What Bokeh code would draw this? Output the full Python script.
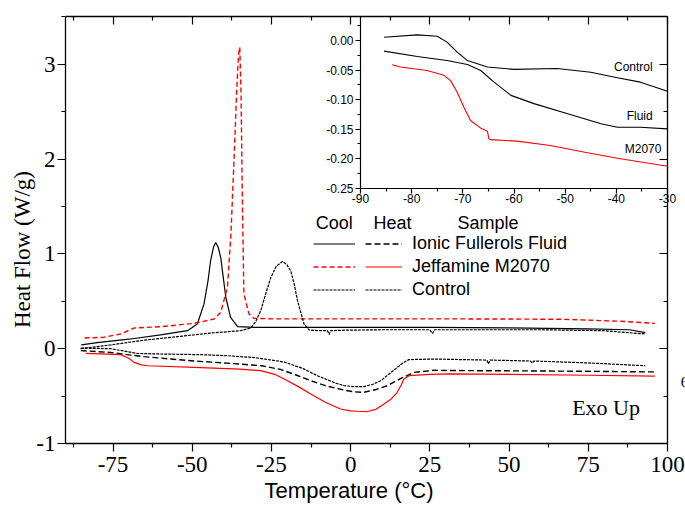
from math import pi
from bokeh.plotting import figure
from bokeh.models import (Range1d, LinearAxis, FixedTicker, PrintfTickFormatter,
                          Label, Legend, LegendItem, Grid)
from bokeh.embed import file_html
from bokeh.resources import INLINE

# ---------------- data (main chart) ----------------
fluid_cool_x = [-85, -80, -70, -60, -51.5, -48.4, -46.3, -45, -44.2, -43.3, -42.6, -41.8, -41, -40.2,
                -39.4, -37.9, -35.7, -30, -20, 0, 25, 50, 75, 88, 93]
fluid_cool_y = [0.04, 0.065, 0.10, 0.145, 0.19, 0.26, 0.47, 0.72, 0.93, 1.07, 1.12, 1.07, 0.96, 0.75,
                0.54, 0.33, 0.232, 0.225, 0.225, 0.225, 0.225, 0.22, 0.21, 0.2, 0.17]

m2070_cool_x = [-84, -78, -72.6, -68.4, -60, -49.4, -43.1, -41, -38.9, -37.8, -36.8, -36, -35.4, -35,
                -34.6, -34.2, -33.7, -32.1, -30.5, -25, 0, 25, 50, 67, 85, 96]
m2070_cool_y = [0.113, 0.12, 0.155, 0.218, 0.232, 0.267, 0.313, 0.383, 0.647, 1.2, 2.0, 2.7, 3.1, 3.18,
                2.7, 1.6, 0.58, 0.366, 0.32, 0.315, 0.315, 0.315, 0.313, 0.31, 0.29, 0.267]

control_cool_x = [-85.2, -75.7, -65.2, -54.7, -44.2, -34.7, -31.5, -29.9, -28.4, -26.8, -25.2, -23.5,
                  -21.5, -20.2, -18.9, -17.8, -16.8, -14.7, -13.1, -10, -7.3, -6.8, -6.3, -2, 10, 25,
                  25.8, 26.5, 40, 60, 80, 93]
control_cool_y = [0.0, 0.04, 0.09, 0.127, 0.165, 0.19, 0.218, 0.29, 0.40, 0.58, 0.75, 0.87,
                  0.92, 0.89, 0.82, 0.68, 0.51, 0.26, 0.197, 0.19, 0.19, 0.15, 0.19, 0.195, 0.2, 0.2,
                  0.16, 0.2, 0.2, 0.2, 0.19, 0.155]

fluid_heat_x = [-85.2, -75.7, -65.2, -49.4, -40, -28, -22, -17, -12.6, -8, -2.1, 1, 4.2, 8, 11.6, 16,
                20, 26.3, 40, 60, 80, 96]
fluid_heat_y = [-0.02, -0.04, -0.084, -0.13, -0.15, -0.18, -0.22, -0.28, -0.338, -0.39, -0.436, -0.455,
                -0.46, -0.43, -0.39, -0.31, -0.25, -0.228, -0.232, -0.235, -0.24, -0.245]

m2070_heat_x = [-83.6, -72.6, -70, -68.4, -66, -64.1, -49.4, -35, -28.4, -24, -21, -16.5, -12.6, -8,
                -3.2, 0, 2.1, 5, 8, 10.5, 12.8, 14.7, 16, 16.8, 18.4, 25, 31.5, 50, 75, 96]
m2070_heat_y = [-0.05, -0.063, -0.10, -0.144, -0.17, -0.18, -0.197, -0.215, -0.232, -0.27, -0.32, -0.40,
                -0.478, -0.565, -0.636, -0.655, -0.66, -0.665, -0.64, -0.584, -0.53, -0.46, -0.38, -0.32,
                -0.285, -0.27, -0.265, -0.27, -0.28, -0.29]

control_heat_x = [-85.2, -75.7, -67.3, -59.9, -47.3, -38.9, -30, -21, -15, -10.5, -5, -2.1, 1, 4.2, 7,
                  9.5, 12, 14.7, 16.5, 18.4, 26.3, 43, 43.5, 44, 56.8, 57.3, 57.8, 75, 93]
control_heat_y = [0.007, 0.0, -0.05, -0.056, -0.063, -0.074, -0.095, -0.14, -0.21, -0.285, -0.36, -0.39,
                  -0.40, -0.40, -0.375, -0.338, -0.27, -0.197, -0.15, -0.115, -0.109, -0.12, -0.16,
                  -0.12, -0.13, -0.15, -0.13, -0.15, -0.18]

# ---------------- data (inset) ----------------
in_control_x = [-85.4, -78.9, -75, -73.1, -71.1, -69.1, -65.2, -60, -51.6, -45, -39.8, -35.3, -30]
in_control_y = [0.0056, 0.0096, 0.0073, -0.0028, -0.0198, -0.034, -0.045, -0.049, -0.0475, -0.0537,
                -0.063, -0.0706, -0.086]
in_fluid_x = [-85.4, -78.9, -73.1, -69.1, -66.5, -63.9, -60.6, -56.1, -49.5, -43, -39.8, -35.3, -30]
in_fluid_y = [-0.018, -0.027, -0.034, -0.0407, -0.0508, -0.0706, -0.093, -0.107, -0.124, -0.141,
              -0.147, -0.147, -0.1497]
in_m2070_x = [-83.8, -82.2, -77, -73.7, -72.4, -71.1, -69.8, -68.5, -66.5, -65.2, -64.9, -64.6, -59.4,
              -52.9, -46.4, -39.8, -30]
in_m2070_y = [-0.0412, -0.045, -0.0508, -0.059, -0.068, -0.0876, -0.113, -0.1356, -0.1486, -0.1537,
              -0.1667, -0.168, -0.1706, -0.178, -0.189, -0.1995, -0.213]

# ---------------- ticks / labels ----------------
x_major = [-75, -50, -25, 0, 25, 50, 75, 100]
x_minor = [-87.5, -62.5, -37.5, -12.5, 12.5, 37.5, 62.5, 87.5]
y_major = [-1, 0, 1, 2, 3]
y_minor = [-0.5, 0.5, 1.5, 2.5, 3.5]
in_x_major = [-90, -80, -70, -60, -50, -40, -30]
in_x_minor = [-85, -75, -65, -55, -45, -35]
in_y_major = [-0.25, -0.20, -0.15, -0.10, -0.05, 0.0]
in_y_minor = [-0.225, -0.175, -0.125, -0.075, -0.025, 0.025]

series_names = ["Ionic Fullerols Fluid", "Jeffamine M2070", "Control"]
header_texts = ["Cool", "Heat", "Sample"]
inset_names = ["Control", "Fluid", "M2070"]

SERIF = "Liberation Serif"
SANS = "Liberation Sans"

# The frame covers the whole canvas; the visible axes are drawn at fixed locations.
p = figure(width=685, height=505, output_backend="svg", toolbar_location=None,
           x_range=Range1d(-110.515, 105.68), y_range=Range1d(-1.654, 3.673),
           x_axis_location=None, y_axis_location=None,
           min_border=0, min_border_left=0, min_border_right=0, min_border_top=0, min_border_bottom=0)
p.outline_line_color = None
p.background_fill_color = "white"
p.border_fill_color = "white"
p.center = [r for r in p.center if not isinstance(r, Grid)]

p.extra_x_ranges = {"ix": Range1d(-160.35, -26.49)}
p.extra_y_ranges = {"iy": Range1d(-0.7881, 0.0678)}


def make_axis(side, loc, bounds, major, minor, inward, labels, fmt="%d", font=SERIF, size="23px",
              maj=8, mnr=4, lw=1.3, standoff=2, inset=False):
    kw = {}
    if inset:
        kw = dict(x_range_name="ix", y_range_name="iy")
    ax = LinearAxis(fixed_location=loc, bounds=bounds,
                    ticker=FixedTicker(ticks=major, minor_ticks=minor),
                    formatter=PrintfTickFormatter(format=fmt), **kw)
    ax.axis_line_color = "black"
    ax.axis_line_width = lw
    ax.major_tick_line_color = "black"
    ax.minor_tick_line_color = "black"
    ax.major_tick_line_width = 1.2
    ax.minor_tick_line_width = 1.2
    if inward:
        ax.major_tick_in, ax.major_tick_out = maj, 0
        ax.minor_tick_in, ax.minor_tick_out = mnr, 0
    else:
        ax.major_tick_in, ax.major_tick_out = 0, maj
        ax.minor_tick_in, ax.minor_tick_out = 0, mnr
    ax.major_label_text_font = font
    ax.major_label_text_font_size = size
    ax.major_label_standoff = standoff
    ax.major_label_text_color = "black" if labels else None
    p.add_layout(ax, side)
    return ax


# main frame axes
make_axis("below", -1, (-90, 100), x_major, x_minor, False, True, standoff=5)
make_axis("left", -90, (-1, 3.5), y_major, y_minor, False, True, standoff=2)
make_axis("above", 3.5, (-90, 100), x_major, x_minor, True, False)
make_axis("right", 100, (-1, 3.5), y_major, y_minor, True, False)

# inset axes
make_axis("below", -0.25, (-90, -30), in_x_major, in_x_minor, False, True, fmt="%d", font=SANS,
          size="12px", maj=5, mnr=3, lw=1.2, standoff=1, inset=True)
make_axis("left", -90, (-0.25, 0.04), in_y_major, in_y_minor, False, True, fmt="%.2f", font=SANS,
          size="12px", maj=5, mnr=3, lw=1.2, standoff=2, inset=True)

# main curves
LW = 1.2
r_fc = p.line(fluid_cool_x, fluid_cool_y, line_color="black", line_width=LW)
r_mc = p.line(m2070_cool_x, m2070_cool_y, line_color="red", line_width=LW + 0.2, line_dash="5 3")
r_cc = p.line(control_cool_x, control_cool_y, line_color="black", line_width=LW, line_dash="3 1")
r_fh = p.line(fluid_heat_x, fluid_heat_y, line_color="black", line_width=LW + 0.2, line_dash="6 3")
r_mh = p.line(m2070_heat_x, m2070_heat_y, line_color="red", line_width=LW)
r_ch = p.line(control_heat_x, control_heat_y, line_color="black", line_width=LW, line_dash="3 1")

# inset curves
p.line(in_control_x, in_control_y, x_range_name="ix", y_range_name="iy", line_color="black", line_width=1.1)
p.line(in_fluid_x, in_fluid_y, x_range_name="ix", y_range_name="iy", line_color="black", line_width=1.1)
p.line(in_m2070_x, in_m2070_y, x_range_name="ix", y_range_name="iy", line_color="red", line_width=1.1)

# legends
common = dict(glyph_height=23, label_height=23, spacing=0, padding=0, margin=0,
              border_line_color=None, background_fill_alpha=0,
              label_text_font=SANS, label_text_font_size="18px", label_text_color="black")
leg_cool = Legend(items=[LegendItem(label=" ", renderers=[r]) for r in (r_fc, r_mc, r_cc)],
                  location=(313, 204), glyph_width=42, label_width=0, label_standoff=0, **common)
leg_heat = Legend(items=[LegendItem(label=n, renderers=[r]) for n, r in zip(series_names, (r_fh, r_mh, r_ch))],
                  location=(365, 204), glyph_width=37, label_standoff=10, **common)
p.add_layout(leg_cool)
p.add_layout(leg_heat)

for txt, xx in zip(header_texts, [-11.0, 7.2, 33.7]):
    p.add_layout(Label(x=xx, y=1.322, text=txt, text_align="left", text_baseline="middle",
                       text_font=SANS, text_font_size="18px", text_color="black"))

# axis titles & annotations
p.add_layout(Label(x=-103.57, y=1.046, text="Heat Flow (W/g)", angle=pi / 2, text_align="center",
                   text_baseline="middle", text_font=SERIF, text_font_size="23px", text_color="black"))
p.add_layout(Label(x=-0.5, y=-1.5, text="Temperature (\u00b0C)", text_align="center",
                   text_baseline="middle", text_font=SANS, text_font_size="22px", text_color="black"))
p.add_layout(Label(x=69.9, y=-0.62, text="Exo Up", text_align="left", text_baseline="middle",
                   text_font=SERIF, text_font_size="22px", text_color="black"))
p.add_layout(Label(x=104.2, y=-0.353, text="6", text_align="left", text_baseline="middle",
                   text_font=SERIF, text_font_size="15px", text_color="black"))

for txt, xx, yy in zip(inset_names, [-32.9, -32.9, -31.2], [-0.0447, -0.128, -0.184]):
    p.add_layout(Label(x=xx, y=yy, x_range_name="ix", y_range_name="iy", text=txt, text_align="right",
                       text_baseline="middle", text_font=SANS, text_font_size="12px", text_color="black"))

open("out.html", "w").write(file_html(p, INLINE))
